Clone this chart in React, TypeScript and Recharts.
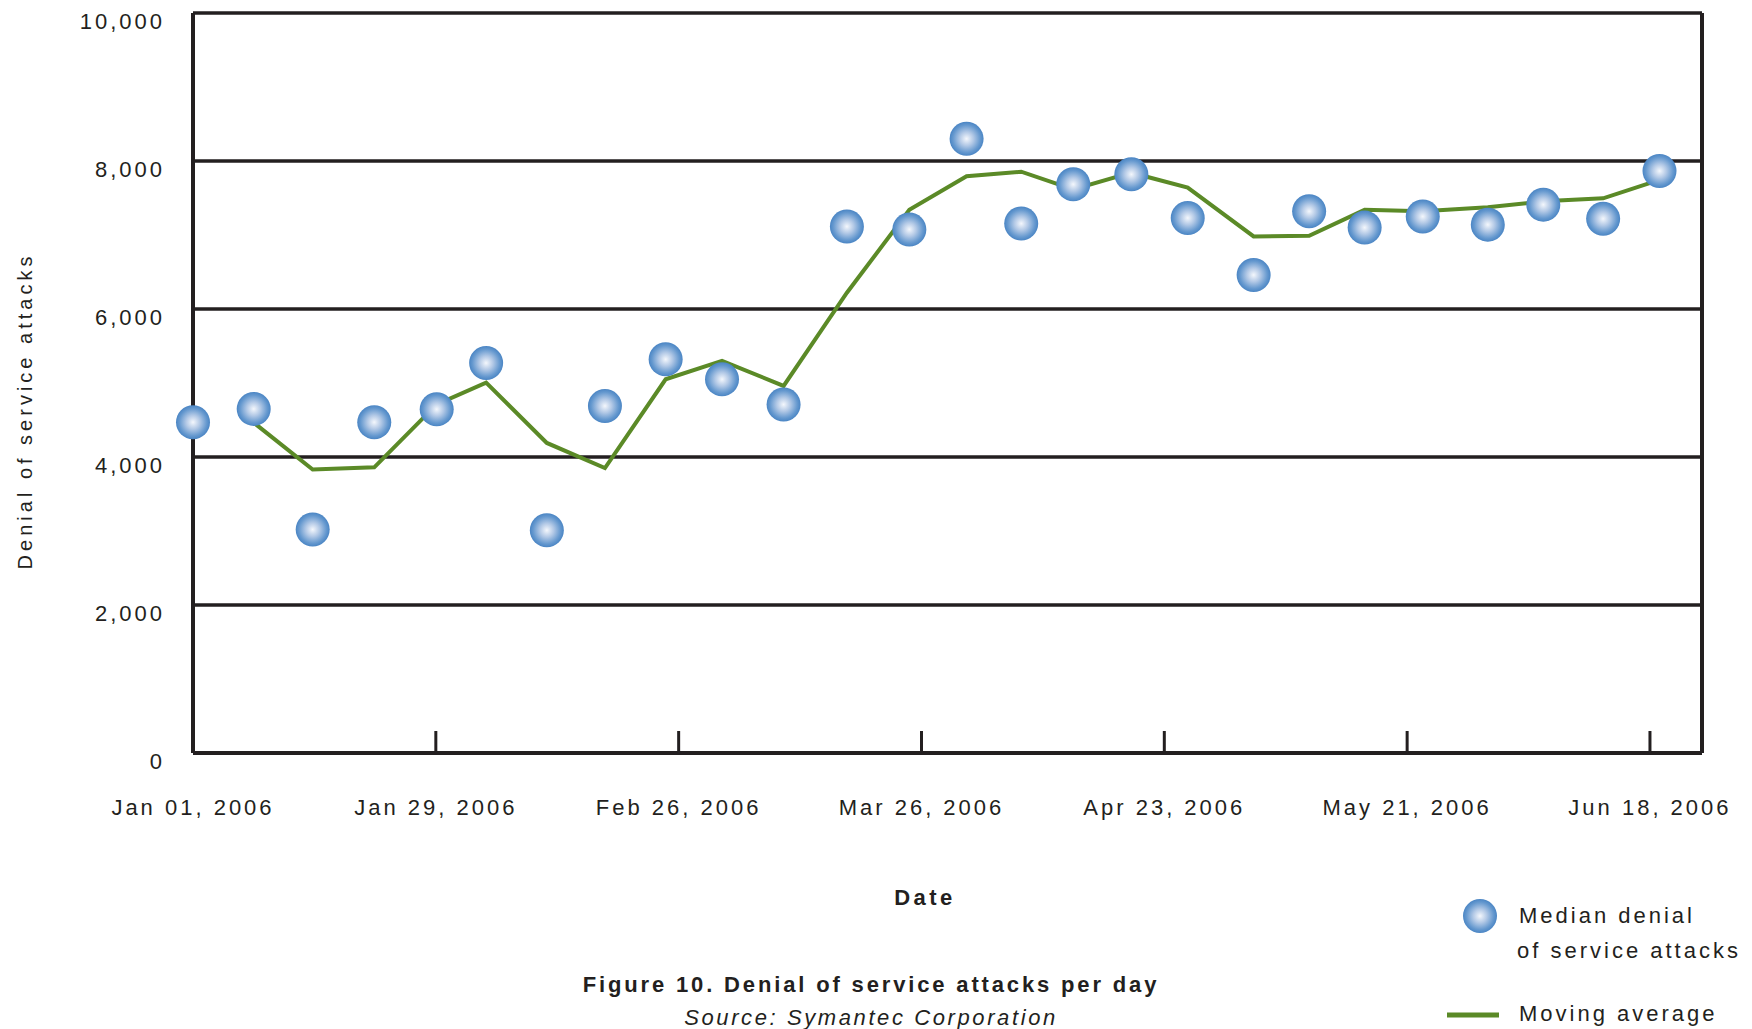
import { CartesianGrid, ComposedChart, Line, ReferenceLine, Scatter, XAxis, YAxis } from "recharts";

// days after Jan 01, 2006 for each weekly sample
const days = [0, 7, 13.8, 20.9, 28.1, 33.8, 40.8, 47.5, 54.5, 61, 68.1, 75.4, 82.6, 89.2, 95.5, 101.5, 108.2, 114.7, 122.3, 128.7, 135.1, 141.8, 149.3, 155.7, 162.6, 169.1];
const medianAttacks = [4470, 4650, 3020, 4470, 4645, 5270, 3010, 4690, 5320, 5050, 4710, 7115, 7075, 8300, 7155, 7685, 7820, 7230, 6460, 7320, 7100, 7250, 7140, 7410, 7220, 7865];
const movingAverage = [null, 4465, 3830, 3860, 4710, 5005, 4190, 3850, 5050, 5300, 4960, 6220, 7340, 7795, 7855, 7615, 7842, 7640, 6980, 6990, 7340, 7320, 7375, 7455, 7495, 7745];

const tickDays = [0, 28, 56, 84, 112, 140, 168];
const tickLabels = ["Jan 01, 2006", "Jan 29, 2006", "Feb 26, 2006", "Mar 26, 2006", "Apr 23, 2006", "May 21, 2006", "Jun 18, 2006"];
const yTicks = [0, 2000, 4000, 6000, 8000, 10000];

const INK = "#231f20";
const GREEN = "#5b8a27";
const FONT = "'Liberation Sans', Arial, sans-serif";

const data = days.map((day, i) => ({ day, median: medianAttacks[i], avg: movingAverage[i] }));

function DateTick({ x, y, payload }: any) {
  const label = tickLabels[tickDays.indexOf(payload.value)];
  return (
    <g>
      {payload.value > 0 && <line x1={x} x2={x} y1={y - 22} y2={y} stroke={INK} strokeWidth={3} />}
      <text x={x} y={y + 54} textAnchor="middle" dominantBaseline="central" fontSize={22} letterSpacing={3} fill={INK} fontFamily={FONT}>
        {label}
      </text>
    </g>
  );
}

function ValueTick({ x, y, payload }: any) {
  return (
    <text x={x} y={y + 8} textAnchor="end" dominantBaseline="central" fontSize={22} letterSpacing={3} fill={INK} fontFamily={FONT}>
      {payload.value.toLocaleString("en-US")}
    </text>
  );
}

function Ball({ cx, cy }: any) {
  return <circle cx={cx} cy={cy} r={17} fill="url(#ballGrad)" />;
}

export default function App() {
  return (
    <div style={{ position: "relative", width: 1752, height: 1029, background: "#fff", fontFamily: FONT }}>
      <style>{`body{margin:0}`}</style>
      <ComposedChart width={1752} height={1029} data={data} margin={{ top: 13, right: 50, left: 0, bottom: 196 }}>
        <defs>
          <radialGradient id="ballGrad" cx="50%" cy="50%" r="50%">
            <stop offset="0%" stopColor="#f4f7fc" />
            <stop offset="40%" stopColor="#b3c9e6" />
            <stop offset="80%" stopColor="#6699cf" />
            <stop offset="100%" stopColor="#4a85c4" />
          </radialGradient>
        </defs>
        <CartesianGrid vertical={false} stroke={INK} strokeWidth={3.5} />
        <XAxis
          type="number"
          dataKey="day"
          domain={[0, 174]}
          ticks={tickDays}
          height={80}
          tickSize={0}
          tickMargin={0}
          tickLine={false}
          axisLine={{ stroke: INK, strokeWidth: 4 }}
          tick={<DateTick />}
          interval={0}
        />
        <YAxis
          type="number"
          domain={[0, 10000]}
          ticks={yTicks}
          width={193}
          tickSize={0}
          tickMargin={28}
          tickLine={false}
          axisLine={{ stroke: INK, strokeWidth: 4 }}
          tick={<ValueTick />}
          interval={0}
        />
        <ReferenceLine x={174} stroke={INK} strokeWidth={4} />
        <Line type="linear" dataKey="avg" stroke={GREEN} strokeWidth={4} dot={false} isAnimationActive={false} connectNulls />
        <Scatter dataKey="median" shape={<Ball />} isAnimationActive={false} />
      </ComposedChart>

      <svg width={1752} height={1029} style={{ position: "absolute", left: 0, top: 0, pointerEvents: "none" }}>
        <defs>
          <radialGradient id="legendBall" cx="50%" cy="50%" r="50%">
            <stop offset="0%" stopColor="#f4f7fc" />
            <stop offset="40%" stopColor="#b3c9e6" />
            <stop offset="80%" stopColor="#6699cf" />
            <stop offset="100%" stopColor="#4a85c4" />
          </radialGradient>
        </defs>
        <text x={25} y={411} transform="rotate(-90 25 411)" textAnchor="middle" dominantBaseline="central" fontSize={20} letterSpacing={4} fill={INK} fontFamily={FONT}>
          Denial of service attacks
        </text>
        <text x={925} y={897} textAnchor="middle" dominantBaseline="central" fontSize={22} fontWeight="bold" letterSpacing={3.5} fill={INK} fontFamily={FONT}>
          Date
        </text>
        <text x={871} y={984} textAnchor="middle" dominantBaseline="central" fontSize={22} fontWeight="bold" letterSpacing={2.85} fill={INK} fontFamily={FONT}>
          Figure 10. Denial of service attacks per day
        </text>
        <text x={871} y={1017} textAnchor="middle" dominantBaseline="central" fontSize={22} fontStyle="italic" letterSpacing={2.6} fill={INK} fontFamily={FONT}>
          Source: Symantec Corporation
        </text>
        <circle cx={1480} cy={916} r={17} fill="url(#legendBall)" />
        <text x={1519} y={915} dominantBaseline="central" fontSize={22} letterSpacing={3} fill={INK} fontFamily={FONT}>
          Median denial
        </text>
        <text x={1517} y={950} dominantBaseline="central" fontSize={22} letterSpacing={3} fill={INK} fontFamily={FONT}>
          of service attacks
        </text>
        <line x1={1447} x2={1499} y1={1015} y2={1015} stroke={GREEN} strokeWidth={5} />
        <text x={1519} y={1013} dominantBaseline="central" fontSize={22} letterSpacing={3} fill={INK} fontFamily={FONT}>
          Moving average
        </text>
      </svg>
    </div>
  );
}
